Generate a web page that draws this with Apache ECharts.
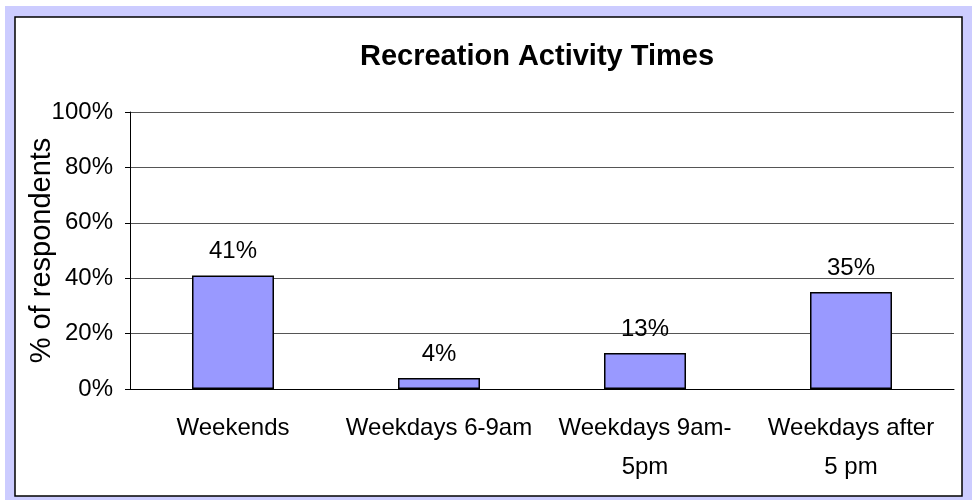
<!DOCTYPE html>
<html>
<head>
<meta charset="utf-8">
<script src="https://cdn.jsdelivr.net/npm/echarts@6/dist/echarts.min.js"></script>
<style>
  html, body { margin: 0; padding: 0; background: #fff; }
  #chart { width: 972px; height: 500px; }
</style>
</head>
<body>
<div id="chart"></div>
<script>
// data
const categories = ['Weekends', 'Weekdays 6-9am', 'Weekdays 9am-\n5pm', 'Weekdays after\n5 pm']
const respondents = [41, 4, 13, 35]
const yTicks = { min: 0, max: 100, interval: 20 }

const font = 'Liberation Sans, Arial, sans-serif'

const chart = echarts.init(document.getElementById('chart'))
chart.setOption({
  animation: false,
  textStyle: { fontFamily: font, color: '#000' },
  graphic: [
    // frame: lavender band with a black-bordered white panel
    { type: 'rect', z: -10, shape: { x: 5, y: 6, width: 967, height: 494 }, style: { fill: '#CCCCFF' } },
    { type: 'rect', z: -9, shape: { x: 15, y: 17, width: 947, height: 479 }, style: { fill: '#fff', stroke: '#000', lineWidth: 1.5 } }
  ],
  title: {
    text: 'Recreation Activity Times',
    left: 532,
    textAlign: 'center',
    top: 37,
    textStyle: { fontFamily: font, fontSize: 29, fontWeight: 'bold', color: '#000' }
  },
  grid: { left: 130, right: 18, top: 112, bottom: 111 },
  xAxis: {
    type: 'category',
    data: categories,
    axisLine: { lineStyle: { color: '#000', width: 1 } },
    axisTick: { length: 6, lineStyle: { color: '#000' } },
    axisLabel: { color: '#000', fontSize: 24, margin: 20, lineHeight: 39, interval: 0 }
  },
  yAxis: {
    type: 'value',
    min: yTicks.min,
    max: yTicks.max,
    interval: yTicks.interval,
    name: '% of respondents',
    nameLocation: 'middle',
    nameGap: 74,
    nameMoveOverlap: false,
    nameTextStyle: { color: '#000', fontSize: 29, fontFamily: font },
    axisLine: { show: true, lineStyle: { color: '#000', width: 1 } },
    axisTick: { show: true, length: 5, lineStyle: { color: '#000' } },
    axisLabel: { color: '#000', fontSize: 24, margin: 17, formatter: '{value}%' },
    splitLine: { lineStyle: { color: '#555', width: 1 } }
  },
  series: [
    {
      type: 'bar',
      data: respondents,
      barWidth: 82,
      itemStyle: { color: '#9999FF', borderColor: '#000', borderWidth: 1.5 },
      label: {
        show: true,
        position: 'top',
        distance: 12,
        color: '#000',
        fontSize: 24,
        fontFamily: font,
        formatter: '{c}%'
      }
    }
  ]
})
</script>
</body>
</html>
